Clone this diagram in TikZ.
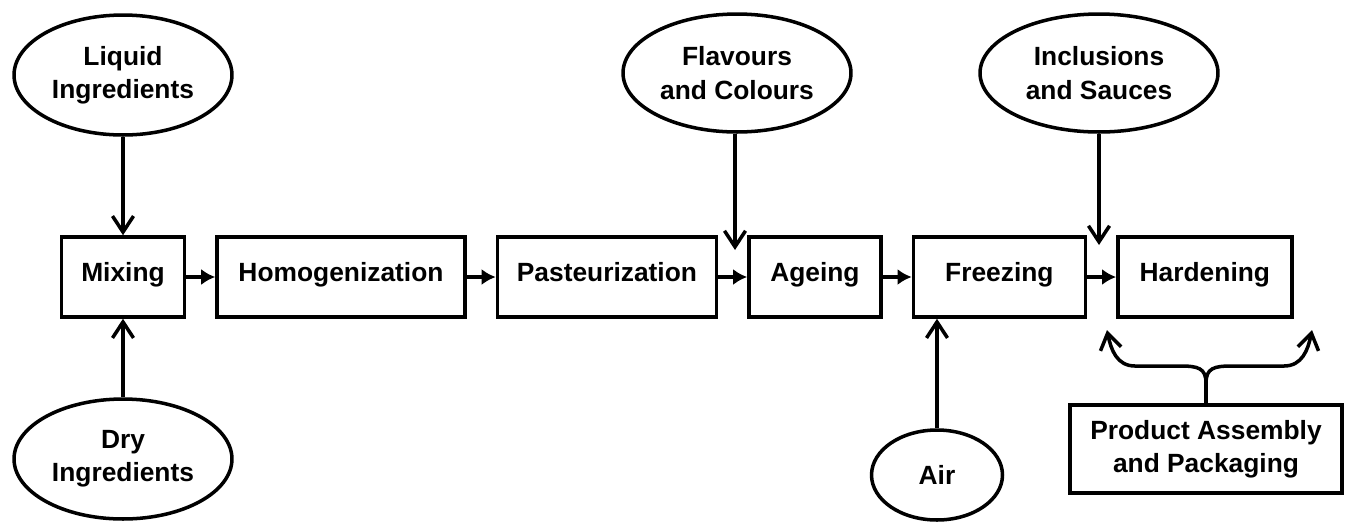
\documentclass[tikz,border=0pt]{standalone}
\usepackage{fontspec}
\setmainfont{Liberation Sans}
\usetikzlibrary{arrows.meta,positioning,shapes.geometric}

\begin{document}
\begin{tikzpicture}[x=0.02cm,y=-0.02cm,
	font=\fontsize{15}{19}\selectfont\bfseries,
	line width=2pt,
	procbox/.style={rectangle,draw,minimum height=1.6cm,inner sep=2pt},
	stagebox/.style={procbox,text height=0.72em,text depth=0.2em},
	source/.style={ellipse,draw,align=center,inner sep=1pt},
	flow/.style={-{Latex[length=2.8mm,width=3.2mm]}},
	feed/.style={-{Straight Barb[length=3.2mm,width=4.2mm]}}]
	\useasboundingbox (0,0) rectangle (1346,522);

	% process line
	\node[stagebox,minimum width=2.46cm] (mix) at (123,277) {Mixing};
	\node[stagebox,minimum width=4.96cm,right=0.58cm of mix] (homog) {Homogenization};
	\node[stagebox,minimum width=4.38cm,right=0.58cm of homog] (past) {Pasteurization};
	\node[stagebox,minimum width=2.64cm,right=0.58cm of past] (age) {Ageing};
	\node[stagebox,minimum width=3.44cm,right=0.58cm of age] (freeze) {Freezing};
	\node[stagebox,minimum width=3.48cm,right=0.58cm of freeze] (hard) {Hardening};
	\node[procbox,minimum width=5.44cm,minimum height=1.76cm,align=center] (prod) at (1206,449) {Product Assembly\\and Packaging};

	% ingredients
	\node[source,minimum width=4.36cm,minimum height=2.4cm] (liquid) at (123,75) {Liquid\\Ingredients};
	\node[source,minimum width=4.36cm,minimum height=2.4cm] (dry) at (123,459) {Dry\\Ingredients};
	\node[source,minimum width=4.56cm,minimum height=2.36cm] (flav) at (737,73) {Flavours\\and Colours};
	\node[source,minimum width=4.76cm,minimum height=2.36cm] (incl) at (1099,73) {Inclusions\\and Sauces};
	\node[source,minimum width=2.62cm,minimum height=1.8cm] (air) at (937,475) {Air};

	\coordinate (flavin) at (735,250);
	\coordinate (inclin) at (1099,245);
	\coordinate (split) at ([yshift=0.4cm]prod.north);
	\coordinate (hl) at (1107,330);
	\coordinate (hr) at (1312,330);

	\draw[flow] (mix) -- (homog);
	\draw[flow] (homog) -- (past);
	\draw[flow] (past) -- (age);
	\draw[flow] (age) -- (freeze);
	\draw[flow] (freeze) -- (hard);

	\draw[feed] (liquid) -- (mix);
	\draw[feed] (dry) -- (mix);
	\draw[feed] (flav.south -| flavin) -- (flavin);
	\draw[feed] (incl) -- (inclin);
	\draw[feed] (air) -- (air |- freeze.south);

	\draw (prod.north) -- (split);
	\draw[feed] (split) .. controls (1206,368) and (1198,366) .. (1180,366) -- (1135,366) .. controls (1117,366) and (1111,350) .. (hl);
	\draw[feed] (split) .. controls (1206,368) and (1214,366) .. (1232,366) -- (1284,366) .. controls (1302,366) and (1308,350) .. (hr);
\end{tikzpicture}
\end{document}
